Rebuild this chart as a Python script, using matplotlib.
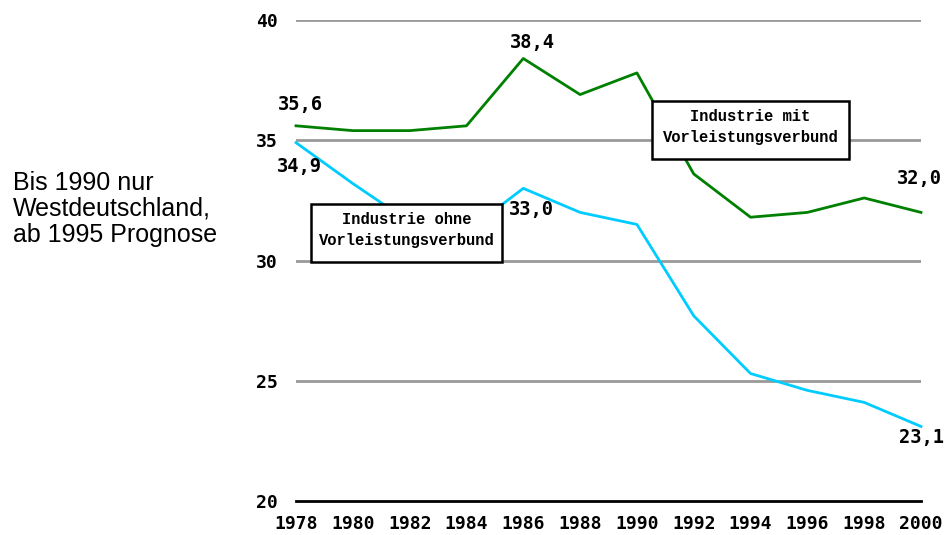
import matplotlib
matplotlib.use("Agg")
import matplotlib.pyplot as plt
from matplotlib.patches import Rectangle
from matplotlib.transforms import Bbox, TransformedBbox

years = [1978, 1980, 1982, 1984, 1986, 1988, 1990, 1992, 1994, 1996, 1998, 2000]
mit_verbund = [35.6, 35.4, 35.4, 35.6, 38.4, 36.9, 37.8, 33.6, 31.8, 32.0, 32.6, 32.0]
ohne_verbund = [34.9, 33.2, 31.6, 31.2, 33.0, 32.0, 31.5, 27.7, 25.3, 24.6, 24.1, 23.1]
yticks = [20, 25, 30, 35, 40]
xtick_labels = [str(y) for y in years]
label_mit = "Industrie mit\nVorleistungsverbund"
label_ohne = "Industrie ohne\nVorleistungsverbund"
note = "Bis 1990 nur\nWestdeutschland,\nab 1995 Prognose"

W, H = 945, 535
fig = plt.figure(figsize=(W / 100, H / 100), dpi=100)
fig.patch.set_facecolor("white")

def fx(px):
    return px / W

def fy(py):
    return 1 - py / H

ax = fig.add_axes([fx(296), fy(501), fx(921) - fx(296), fy(20) - fy(501)])
ax.set_xlim(1978, 2000)
ax.set_ylim(20, 40)
for s in ax.spines.values():
    s.set_visible(False)
ax.set_facecolor("none")

for yv in yticks[1:]:
    ax.axhline(yv, color="#999999", lw=2.0, zorder=1)
ax.axhline(20, color="black", lw=2.0, zorder=1, clip_on=False)

ax.plot(years, mit_verbund, color="#008000", lw=2.0, zorder=3, clip_on=False)
ax.plot(years, ohne_verbund, color="#00CCFF", lw=2.0, zorder=3, clip_on=False)

tickfont = dict(family="DejaVu Sans Mono", weight="bold", size=13)
ax.set_yticks(yticks)
ax.set_yticklabels([str(v) for v in yticks], **tickfont)
ax.set_xticks(years)
ax.set_xticklabels(xtick_labels, **tickfont)
ax.tick_params(axis="both", length=0)
ax.tick_params(axis="y", pad=13)
ax.tick_params(axis="x", pad=10)

labfont = dict(family="DejaVu Sans Mono", weight="bold", size=13.5, ha="center", va="center")

def lab(x, y, text, dx, dy):
    ax.annotate(text, (x, y), xytext=(dx * 0.72, -dy * 0.72), textcoords="offset points",
                annotation_clip=False, **labfont)

lab(years[0], mit_verbund[0], "35,6", 4, -21)
lab(years[0], ohne_verbund[0], "34,9", 3, 24)
lab(years[4], mit_verbund[4], "38,4", 9, -16)
lab(years[4], ohne_verbund[4], "33,0", 8, 21)
lab(years[-1], mit_verbund[-1], "32,0", -2, -34)
lab(years[-1], ohne_verbund[-1], "23,1", 0, 11)

def box(x0, y0, x1, y1, text):
    r = Rectangle((fx(x0), fy(y1)), fx(x1) - fx(x0), fy(y0) - fy(y1), transform=fig.transFigure,
                  facecolor="white", edgecolor="black", lw=1.8, zorder=5)
    fig.add_artist(r)
    fig.text(fx((x0 + x1) / 2), fy((y0 + y1) / 2 - 3), text, ha="center", va="center",
             family="Liberation Mono", weight="bold", size=11.2, linespacing=1.55, zorder=6)

box(311, 204, 502, 262, label_ohne)
box(652, 101, 849, 159, label_mit)

t = fig.text(fx(13), fy(171), note, ha="left", va="top", family="Liberation Sans",
             size=18, linespacing=1.1)
t.set_clip_box(TransformedBbox(Bbox([[0, fy(248)], [fx(245), 1]]), fig.transFigure))
t.set_clip_on(True)

fig.savefig("out.png", dpi=100, facecolor="white")
